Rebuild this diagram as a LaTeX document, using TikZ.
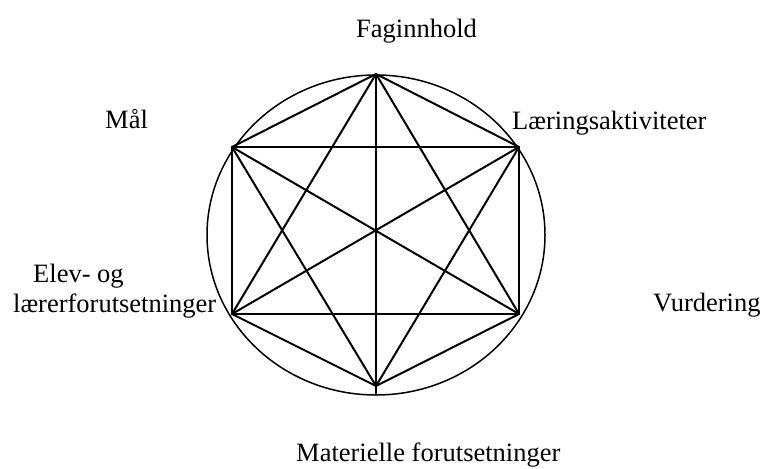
\documentclass[tikz,border=0pt]{standalone}
\usepackage{fontspec}
\setmainfont{Liberation Serif}
\begin{document}
\begin{tikzpicture}[x=1pt,y=1pt,
    edge/.style={line width=2pt, line cap=round, line join=round},
    lab/.style={anchor=base west, inner sep=0pt, font=\fontsize{26.5}{30}\selectfont}]
  \useasboundingbox (0,0) rectangle (762,468);
  % ring
  \draw[line width=1.5pt] (376,233) ellipse [x radius=169, y radius=160];
  % corners of the hexagon
  \coordinate (t)  at (376,394);
  \coordinate (ur) at (519,321);
  \coordinate (lr) at (519,154);
  \coordinate (b)  at (376,82);
  \coordinate (ll) at (232,154);
  \coordinate (ul) at (232,321);
  \coordinate (rim) at (376,73);
  \foreach \a/\b in {t/ur, t/lr, t/ll, t/ul, ur/lr, ur/b, ur/ll, ur/ul,
                     lr/b, lr/ll, lr/ul, b/ll, b/ul, ll/ul}
    \draw[edge] (\a) -- (\b);
  \draw[edge] (t) -- (rim);
  % labels
  \node[lab] (fag) at (356,430) {Faginnhold};
  \node[lab] (maal) at (105,339) {Mål};
  \node[lab] (laering) at (512,338) {Læringsaktiviteter};
  \node[lab] (elev) at (33,185) {Elev- og};
  \node[lab] (laerer) at (13,155) {lærerforutsetninger};
  \node[lab] (vurd) at (653,156) {Vurdering};
  \node[lab] (mat) at (296,6) {Materielle forutsetninger};
\end{tikzpicture}
\end{document}
